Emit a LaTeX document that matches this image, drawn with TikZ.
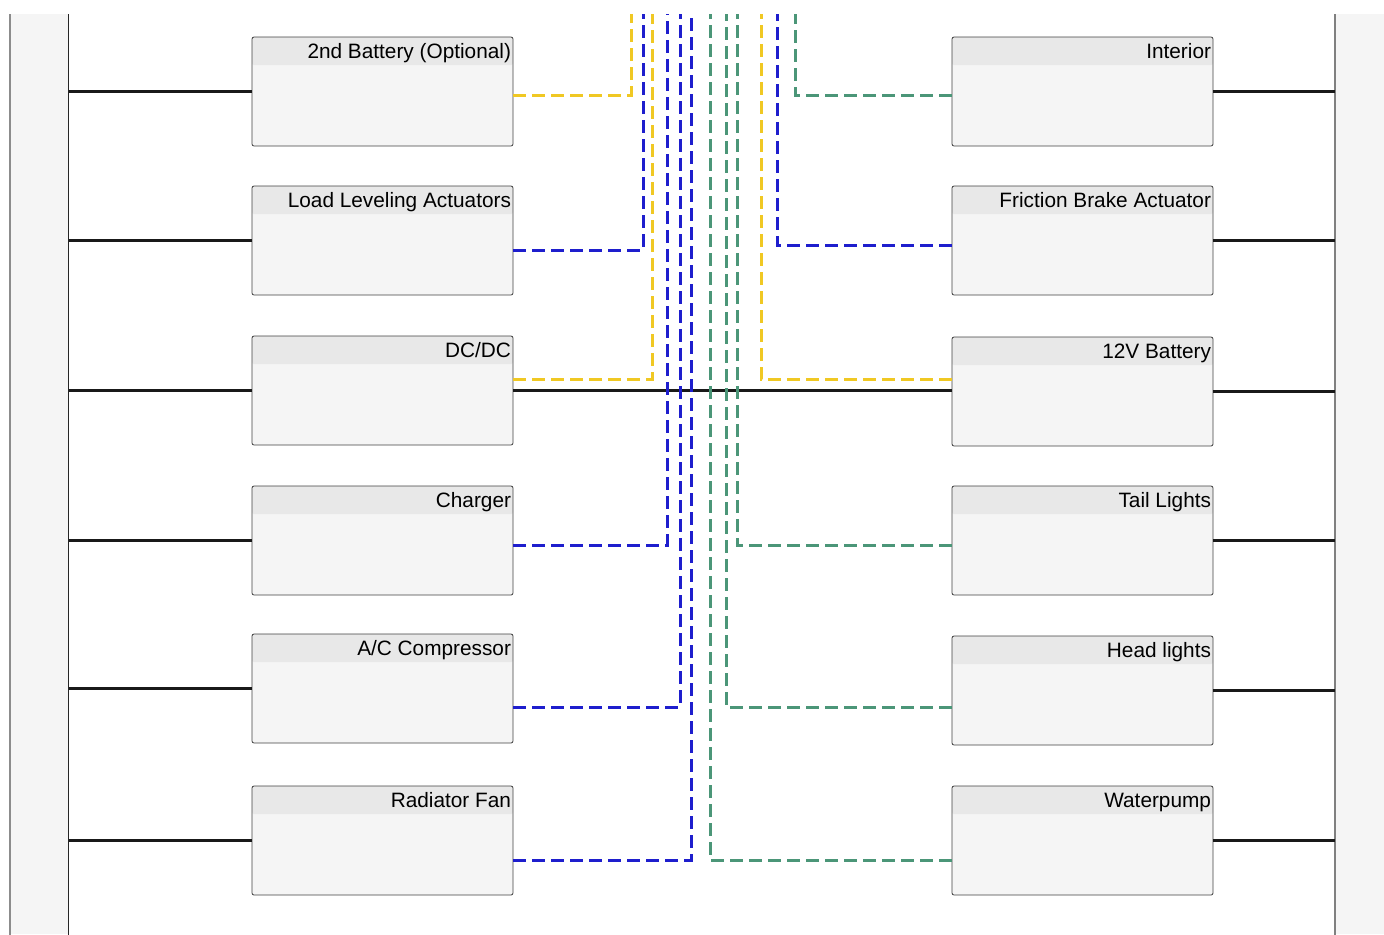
\documentclass[tikz,border=0pt]{standalone}
\usepackage{fontspec}
\setmainfont{Liberation Sans}
\usetikzlibrary{calc,positioning}

\definecolor{wireyellow}{RGB}{240,200,35}
\definecolor{wireblue}{RGB}{30,30,205}
\definecolor{wiregreen}{RGB}{75,150,120}

\begin{document}
\begin{tikzpicture}[x=0.5pt,y=-0.5pt]
	\tikzstyle{unit}=[draw=black!75,fill=black!4,rounded corners=1pt,inner sep=0pt,
	    minimum width=130.5pt,minimum height=54.5pt,
	    path picture={\fill[black!9] (path picture bounding box.north west) rectangle ([yshift=-14pt]path picture bounding box.north east);}]
	\tikzstyle{title}=[anchor=base east,inner sep=0pt,xshift=-1pt,yshift=-11pt,font=\fontsize{10.4}{12}\selectfont]
	\tikzstyle{panel}=[fill=black!4,inner sep=0pt,anchor=north west,minimum height=460pt]
	\tikzstyle{wire}=[line width=1.1pt,black!90]
	\tikzstyle{bus}=[line width=1.5pt,dash pattern=on 6.5pt off 3pt]
	
	\useasboundingbox (0,0) rectangle (1384,934);
	
	% side rails
	\node[panel,minimum width=29pt] (lrail) at (10,14) {};
	\node[panel,minimum width=25pt] (rrail) at (1335,14) {};
	\draw[black!45,line width=0.8pt] (lrail.north west) -- (lrail.south west);
	\draw[black!85,line width=0.6pt] (lrail.north east) -- (lrail.south east);
	\draw[black!50,line width=0.8pt] (rrail.north west) -- (rrail.south west);
	
	% left units
	\node[unit,label={[title]north east:2nd Battery (Optional)}] (batt2) at (382.5,91.5) {};
	\node[unit,label={[title]north east:Load Leveling Actuators}] (level) at (382.5,240.5) {};
	\node[unit,label={[title]north east:DC/DC}] (dcdc) at (382.5,390.5) {};
	\node[unit,label={[title]north east:Charger}] (charger) at (382.5,540.5) {};
	\node[unit,label={[title]north east:A/C Compressor}] (ac) at (382.5,688.5) {};
	\node[unit,label={[title]north east:Radiator Fan}] (fan) at (382.5,840.5) {};
	
	% right units
	\node[unit,label={[title]north east:Interior}] (interior) at (1082.5,91.5) {};
	\node[unit,label={[title]north east:Friction Brake Actuator}] (brake) at (1082.5,240.5) {};
	\node[unit,label={[title]north east:12V Battery}] (batt12) at (1082.5,391.5) {};
	\node[unit,label={[title]north east:Tail Lights}] (tail) at (1082.5,540.5) {};
	\node[unit,label={[title]north east:Head lights}] (head) at (1082.5,690.5) {};
	\node[unit,label={[title]north east:Waterpump}] (water) at (1082.5,840.5) {};
	
	% power wires
	\foreach \u in {batt2,level,dcdc,charger,ac,fan}
	    \draw[wire] (lrail.east |- \u.west) -- (\u.west);
	\foreach \u in {interior,brake,batt12,tail,head,water}
	    \draw[wire] (\u.east) -- (rrail.west |- \u.east);
	\draw[wire] (dcdc.east) -- (dcdc.east -| batt12.west);
	
	% bus lines leaving the top
	\coordinate (y1) at (631,14);
	\coordinate (b1) at (643,14);
	\coordinate (y2) at (652,14);
	\coordinate (b2) at (667,14);
	\coordinate (b3) at (680,14);
	\coordinate (b4) at (691,14);
	\coordinate (g1) at (710,14);
	\coordinate (g2) at (726,14);
	\coordinate (g3) at (737,14);
	\coordinate (y3) at (761,14);
	\coordinate (b5) at (777,14);
	\coordinate (g4) at (795,14);
	
	\draw[bus,wireyellow] ($(batt2.east)+(0,3.5)$) -| (y1);
	\draw[bus,wireblue] ($(level.east)+(0,9.5)$) -| (b1);
	\draw[bus,wireyellow] ($(dcdc.east)+(0,-11.5)$) -| (y2);
	\draw[bus,wireblue] ($(charger.east)+(0,4.5)$) -| (b2);
	\draw[bus,wireblue] ($(ac.east)+(0,18.5)$) -| (b3);
	\draw[bus,wireblue] ($(fan.east)+(0,19.5)$) -| (b4);
	
	\draw[bus,wiregreen] ($(interior.west)+(0,3.5)$) -| (g4);
	\draw[bus,wireblue] ($(brake.west)+(0,4.5)$) -| (b5);
	\draw[bus,wireyellow] ($(batt12.west)+(0,-12.5)$) -| (y3);
	\draw[bus,wiregreen] ($(tail.west)+(0,4.5)$) -| (g3);
	\draw[bus,wiregreen] ($(head.west)+(0,16.5)$) -| (g2);
	\draw[bus,wiregreen] ($(water.west)+(0,19.5)$) -| (g1);
\end{tikzpicture}
\end{document}
